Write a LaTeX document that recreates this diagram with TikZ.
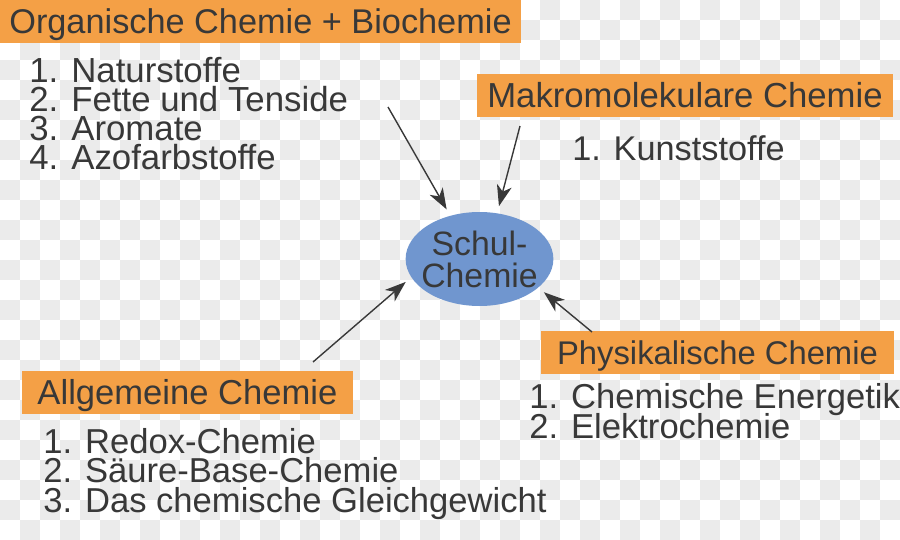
\documentclass[tikz,border=0pt]{standalone}
\usepackage{fontspec}
\setmainfont{Liberation Sans}
\usepackage{tikz}
\usetikzlibrary{shapes.geometric,arrows.meta}
\definecolor{boxorange}{HTML}{F4A046}
\definecolor{schulblue}{HTML}{7096CF}
\definecolor{textgray}{HTML}{383838}
\definecolor{checkgray}{HTML}{EBEBEB}
\newcommand{\engzeilen}{\lineskiplimit=-\maxdimen\relax}

\begin{document}
\begin{tikzpicture}[x=0.5pt, y=-0.5pt, >={Stealth[length=10.5pt,width=7.5pt,inset=3pt]},
    topic/.style={fill=boxorange, text=textgray, inner sep=0pt, minimum height=21.5pt, text height=12pt, text depth=0pt},
    themen/.style={anchor=north west, align=left, inner sep=0pt, text=textgray},
    pfeil/.style={->, line width=0.7pt, draw=textgray, shorten >=3.5pt}]
    \useasboundingbox (0,0) rectangle (900,540);

    % Checkerboard background
    \foreach \i in {0,...,44}
      \foreach \j in {0,...,26} {
        \pgfmathtruncatemacro{\odd}{mod(\i+\j,2)}
        \ifnum\odd=1 \fill[checkgray] (\i*20,\j*20) rectangle ++(20,20); \fi
      }

    % Centre
    \node[ellipse, fill=schulblue, text=textgray, minimum width=73.5pt, minimum height=47pt,
          inner xsep=-3pt, inner ysep=0pt, align=center,
          font=\fontsize{16.9}{16}\selectfont\engzeilen] (schul) at (479.5,259) {Schul-\\Chemie};

    % Topic boxes
    \node[topic, minimum width=260.5pt, font=\fontsize{17.15}{20}\selectfont] (organisch) at (260.5,22) {Organische Chemie + Biochemie};
    \node[topic, minimum width=208pt, font=\fontsize{17.35}{20}\selectfont] (makro) at (685,96) {Makromolekulare Chemie};
    \node[topic, minimum width=176.5pt, font=\fontsize{16.4}{20}\selectfont] (physik) at (717.5,352.5) {Physikalische Chemie};
    \node[topic, minimum width=165.5pt, font=\fontsize{17.3}{20}\selectfont] (allgemein) at (187.5,392.5) {Allgemeine Chemie};

    % Lists
    \node[themen, font=\fontsize{17.4}{14.5}\selectfont\engzeilen] (orgliste) at (29,57)
        {1. Naturstoffe\\2. Fette und Tenside\\3. Aromate\\4. Azofarbstoffe};
    \node[themen, font=\fontsize{17.15}{14.5}\selectfont] (makroliste) at (572,135) {1. Kunststoffe};
    \node[themen, font=\fontsize{17.3}{15}\selectfont\engzeilen] (physikliste) at (529,383)
        {1. Chemische Energetik\\2. Elektrochemie};
    \node[themen, font=\fontsize{17.3}{14.75}\selectfont\engzeilen] (allgliste) at (43,428)
        {1. Redox-Chemie\\2. Säure-Base-Chemie\\3. Das chemische Gleichgewicht};

    % Arrows into the centre
    \coordinate (orgfuss) at (388,107);
    \coordinate (makrofuss) at (520,126);
    \coordinate (allgfuss) at (313,362);
    \coordinate (physikfuss) at (592,332);
    \draw[pfeil] (orgfuss) -- (schul.124);
    \draw[pfeil] (makrofuss) -- (schul.69);
    \draw[pfeil] (allgfuss) -- (schul.195);
    \draw[pfeil] (physikfuss) -- (schul.334);
\end{tikzpicture}
\end{document}
